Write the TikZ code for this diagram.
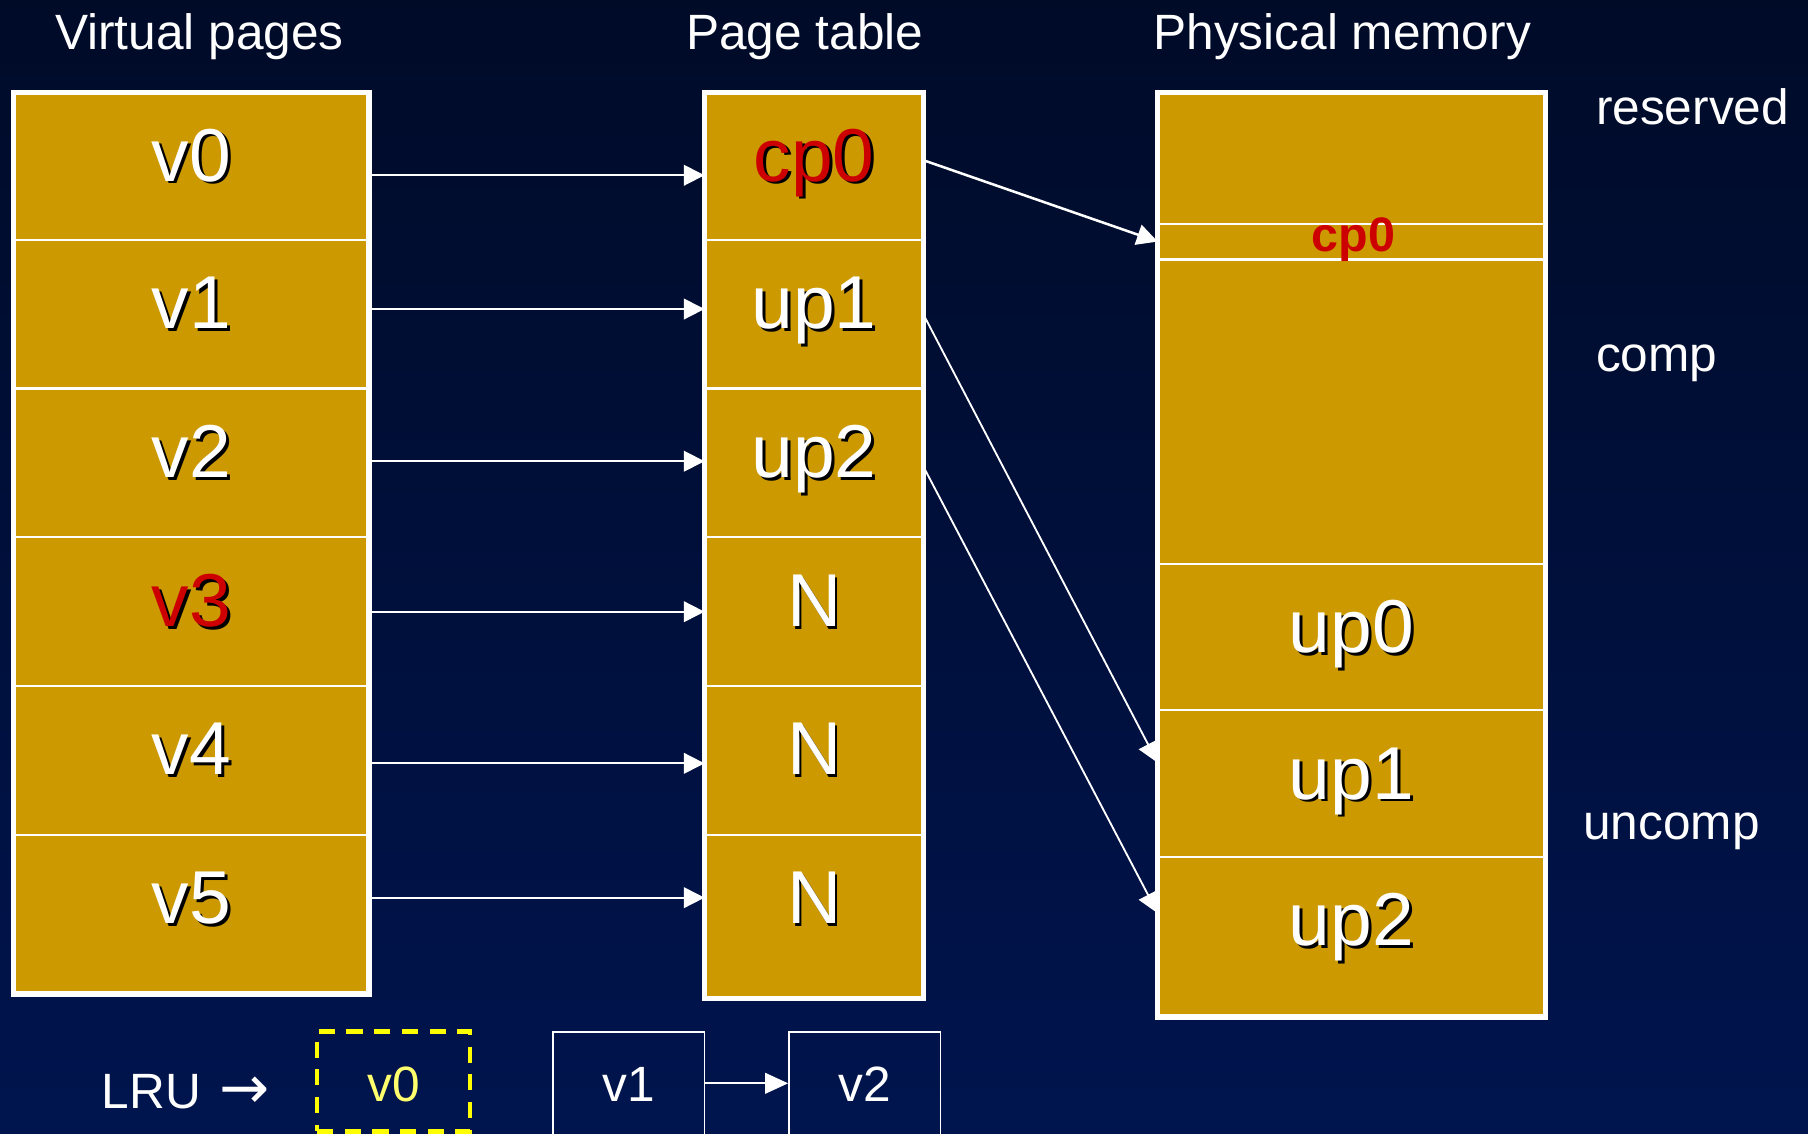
\documentclass[tikz,border=0pt]{standalone}
\usepackage{fontspec}
\setmainfont{Liberation Sans}
\newfontfamily\arrowfont{DejaVu Sans}
\usetikzlibrary{arrows.meta}
\definecolor{gold}{RGB}{204,153,0}
\definecolor{redlbl}{RGB}{204,0,0}
\definecolor{bgtop}{RGB}{0,11,40}
\definecolor{bgbot}{RGB}{0,20,78}
\definecolor{lruyellow}{RGB}{255,255,0}
\definecolor{lrutext}{RGB}{255,255,110}
\newcommand{\mkcell}[5]{\node[cell, minimum width={#4-#2}, minimum height={#5-#3}] (#1) at ({(#2+#4)/2},{(#3+#5)/2}) {};}
\newcommand{\biglabel}[3]{%
  \node[big, text=black] (#1s) at ([xshift=2.5pt,yshift=-79.5pt]#1.north) {#3};
  \node[big, text=#2] (#1t) at ([yshift=-77pt]#1.north) {#3};}
\begin{document}
\begin{tikzpicture}[x=1pt,y=-1pt,
  cell/.style={draw=white, line width=2pt, fill=gold, inner sep=0pt, outer sep=0pt},
  colframe/.style={draw=white, line width=4.5pt},
  link/.style={draw=white, line width=1.6pt, -{Triangle[length=18pt,width=18pt]}},
  big/.style={font=\fontsize{65}{70}\selectfont, anchor=base, inner sep=0pt},
  plain/.style={text=white, font=\fontsize{43}{48}\selectfont, anchor=base, inner sep=0pt},
  lrubox/.style={draw=white, line width=1.3pt, inner sep=0pt, minimum width=131.5, minimum height=100}
]
\useasboundingbox (0,0) rectangle (1568,983);
\clip (0,0) rectangle (1568,983);
\fill[top color=bgtop, bottom color=bgbot] (0,0) rectangle (1568,983);

% titles
\node[plain] (tv) at (173,43) {Virtual pages};
\node[plain] (tp) at (698,43) {Page table};
\node[plain] (tm) at (1164,43) {Physical memory};
\node[plain, anchor=base west] (lres) at (1384,108) {reserved};
\node[plain, anchor=base west] (lcomp) at (1384,322) {comp};
\node[plain, anchor=base west] (lunc) at (1373,728) {uncomp};

% cells (virtual pages)
\mkcell{v0}{12}{80}{320}{208}
\mkcell{v1}{12}{208}{320}{337}
\mkcell{v2}{12}{337}{320}{466}
\mkcell{v3}{12}{466}{320}{595}
\mkcell{v4}{12}{595}{320}{724}
\mkcell{v5}{12}{724}{320}{862}
% page table
\mkcell{p0}{611}{80}{801}{208}
\mkcell{p1}{611}{208}{801}{337}
\mkcell{p2}{611}{337}{801}{466}
\mkcell{p3}{611}{466}{801}{595}
\mkcell{p4}{611}{595}{801}{724}
\mkcell{p5}{611}{724}{801}{866}

% links drawn before physical memory so their heads sit under it
\draw[link] ([yshift=-8pt]v0.east) -- ([yshift=-8pt]v0.east -| p0.west);
\draw[link] ([yshift=4.5pt]v1.east) -- ([yshift=4.5pt]v1.east -| p1.west);
\draw[link] ([yshift=1.5pt]v2.east) -- ([yshift=1.5pt]v2.east -| p2.west);
\draw[link] (v3.east) -- (v3.east -| p3.west);
\draw[link] ([yshift=-2.5pt]v4.east) -- ([yshift=-2.5pt]v4.east -| p4.west);
\draw[link] ([yshift=14.5pt]v5.east) -- ([yshift=14.5pt]v5.east -| p5.west);

% physical memory
\mkcell{mres}{1004}{80}{1340}{194}
\mkcell{mc}{1004}{194}{1340}{225}
\mkcell{mcomp}{1004}{225}{1340}{489}
\mkcell{m0}{1004}{489}{1340}{616}
\coordinate (m1tip) at (1004,661.5);
\coordinate (m2tip) at (1004,792);
\draw[link] ([yshift=-0.5pt]p1.east) -- (m1tip);
\draw[link] ([yshift=-3.5pt]p2.east) -- (m2tip);
\mkcell{m1}{1004}{616}{1340}{743}
\mkcell{m2}{1004}{743}{1340}{882}
\draw[link, line width=2.2pt] ([yshift=5pt]p0.east) -- (mc.west);

% frames
\draw[colframe] (v0.north west) rectangle (v5.south east);
\draw[colframe] (p0.north west) rectangle (p5.south east);
\draw[colframe] (mres.north west) rectangle (m2.south east);

% big labels
\biglabel{v0}{white}{v0}
\biglabel{v1}{white}{v1}
\biglabel{v2}{white}{v2}
\biglabel{v3}{redlbl}{v3}
\biglabel{v4}{white}{v4}
\biglabel{v5}{white}{v5}
\biglabel{p0}{redlbl}{cp0}
\biglabel{p1}{white}{up1}
\biglabel{p2}{white}{up2}
\biglabel{p3}{white}{N}
\biglabel{p4}{white}{N}
\biglabel{p5}{white}{N}
\biglabel{m0}{white}{up0}
\biglabel{m1}{white}{up1}
\biglabel{m2}{white}{up2}
\node[text=redlbl, font=\fontsize{42}{46}\selectfont\bfseries, anchor=base, inner sep=0pt] (mct) at (1174,218) {cp0};

% LRU list
\node[plain, anchor=base west] (lru) at (88,961) {LRU\hspace{16pt}{\arrowfont\fontsize{52}{56}\selectfont →}};
\node[draw=lruyellow, line width=4pt, dash pattern=on 14pt off 10pt, inner sep=0pt, minimum width=132.6, minimum height=86.3] (q0) at (341.3,937.9) {};
\node[plain, text=lrutext] (q0t) at (341.3,955.4) {v0};
\node[lrubox] (q1) at (545.3,945) {};
\node[plain] (q1t) at (545.3,955.4) {v1};
\node[lrubox] (q2) at (749.9,945) {};
\node[plain] (q2t) at (749.9,955.4) {v2};
\draw[white, line width=1.6pt, -{Triangle[length=20pt,width=18pt]}] ([yshift=5.5pt]q1.east) -- ([yshift=5.5pt]q2.west);
\end{tikzpicture}
\end{document}
